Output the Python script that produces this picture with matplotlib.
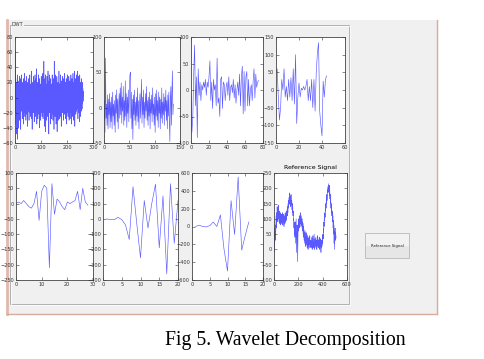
import matplotlib
matplotlib.use('Agg')
import matplotlib.pyplot as plt
from matplotlib.patches import Rectangle

# detail coefficients (levels 1..7) + reference signal
d1 = [10, 62, -20, 25, -35, 15, -48, 20, -10, 30, -55, 18, -25, 5, -40,
      22, -15, 28, -30, 12, -8, 25, -42, 15, -18, 30, -12, 8, -28, 20,
      -5, 18, -35, 25, -20, 10, -15, 32, -25, 5, -10, 22, -30, 15, -8,
      28, -22, 12, -38, 20, -5, 15, -18, 25, -30, 10, -12, 30, -20, 8,
      -25, 18, -10, 35, -28, 12, -42, 20, -5, 15, -20, 28, -15, 5, -32,
      22, -8, 30, -25, 10, -18, 25, -12, 38, -35, 15, -5, 20, -28, 12,
      -15, 30, -22, 8, -40, 25, -10, 18, -30, 12, -6, 28, -20, 15, -25,
      20, -12, 32, -28, 10, -18, 48, -20, 15, -38, 25, -8, 30, -45, 18,
      -22, 12, -30, 28, -15, 5, -25, 35, -18, 10, -48, 22, -12, 30, -20,
      15, -35, 25, -8, 18, -28, 12, -22, 30, -15, 8, -30, 20, -10, 25,
      -42, 48, -20, 15, -25, 30, -12, 8, -35, 22, -18, 28, -45, 12, -8,
      20, -30, 15, -22, 35, -10, 18, -28, 10, -15, 30, -25, 12, -38, 22,
      -5, 15, -20, 28, -12, 8, -30, 25, -18, 10, -22, 32, -15, 5, -28,
      20, -10, 25, -35, 15, -8, 30, -20, 12, -25, 18, -12, 28, -30, 10,
      -15, 22, -28, 15, -5, 30, -20, 12, -35, 25, -10, 18, -25, 32, -15,
      8, -30, 20, -12, 35, -38, 15, -8, 25, -22, 12, -18, 30, -15, 22,
      -10, 35, -28, 15, -20, 28, -12, 5, -32, 30, -15, 20, -25, 12, -5,
      25, -18, 10, -15, 20, -8, 12, -5, 8, 2]

d2 = [-20, 10, -35, 70, -15, 5, -25, 18, -30, 12, -10, 20, -28, 8, -20,
      15, -30, 22, -12, 5, -25, 10, -35, 18, -8, 25, -20, 12, -30, 5,
      20, -15, 28, -10, 35, -22, 15, -5, 30, -25, 10, -18, 38, -12, 20,
      -28, 15, -8, 25, -20, 10, 45, 50, -15, 22, -30, 12, -45, 18, -10,
      25, -18, 8, -25, 15, -12, 28, -20, 10, -30, 5, 20, -15, 12, 40,
      -22, 15, -10, 25, -28, 8, -15, 20, -5, 30, -18, 10, -25, 15, -12,
      22, -30, 12, -8, 18, -20, 28, -10, 5, -25, 15, -35, 20, -12, 25,
      -18, 10, -28, 22, -8, 15, -30, 12, -15, 28, -22, 8, -10, 20, -25,
      15, -5, 25, -18, 10, -30, 18, -12, 22, -20, -48, 15, 30, -25, 20,
      52, -10, 5]

d3 = [-10, -80, -50, 30, 85, -30, 25, -90, 40, -10, 15, -20, 10, 0, 15, 5, 20, -10, 15, 5,
      25, 55, -20, 15, -35, 20, 0, 10, -30, 60, -25, -15, -50, 20, 25, -35, 15, 10, -20, 5,
      15, -10, 25, -20, 5, 10, -5, 20, -15, 10, -25, 0, 15, -10, 30, -30, 25, 45, -45, 35,
      -40, 25, 35, -30, 20, -30, 0, 10, -20, 15, 40, -15, 30, 5, 15, 18]

d4 = [50, 60, -20, -85, -50, 30, 0, 60, -20, 10, -30, 30, -20, 35, -30,
      60, -40, 100, -95, -20, 20, -20, 5, 0, 10, 0, 10, 30, -30, 10,
      -30, 30, -50, 30, -60, 50, 105, 134, -60, -100, -130, 25, -20, 30, 40]

d5 = [0, 5, 0, 10, 0, -10, -15, 0, 40, -55, 40, 60, 50, -210, 65,
      -35, 15, 5, -10, -20, 5, 0, 5, 10, 40, -20, 50, 5, -5]

d6 = [0, -5, -5, 10, -5, -40, -135, 210, -30, -255, 120, -60, 100, 227, -190,
      150, -360, 230, -160, 120]

d7 = [0, 15, 0, -5, 10, 50, 0, 130, -250, -500, 290, -90, 555, -265, -100, 50]

ref = [60, 20, -10, 40, 70, 30, 80, 50, 90, 110, 70,
       120, 95, 140, 105, 125, 90, 130, 110, 145, 100, 115, 85, 125, 105, 95, 120, 80, 110, 100, 90,
       115, 85, 105, 95, 120, 80, 110, 100, 90, 115, 75, 105, 95, 110, 85, 120, 100, 90, 110, 95,
       125, 105, 115, 130, 110, 140, 120, 150, 135, 160,
       145, 170, 150, 185, 160, 175, 140, 165, 150, 180, 155, 145, 160, 130, 150, 120, 140, 110, 125, 95,
       100, 70, 90, 50, 80, 40, 60, 90, 20, 70, 100, 50, -10, 40, 80, 60, -40, 30, 70, 90,
       60, 100, 80, 110, 70, 105, 90, 120, 85, 100, 75, 110, 95, 80, 100, 70, 90, 60, 85, 50,
       75, 40, 65, 30, 55, 20, 45, 60, 10, 40, 25, 55, 15, 35, 50, 5, 30, 45, 20, 0,
       35, 10, 40, 25, 5, 30, 45, 15, 25, 10,
       30, 5, 25, 40, 10, 20, 0, 35, 15, 45, 5, 25, 10, 30, 50, 15, 0, 20, 35, 10,
       25, 40, 5, 15, 30, 0, 20, 45, 10, 25, 35, 5, 15, 30, 10, 40, 20, 0, 25, 10,
       35, 15, -10, 20, 5, 30, 10, 25, 45, 20,
       50, 35, 70, 55, 90, 75, 110, 95, 120, 105, 140, 125, 150, 135, 165, 150, 180, 160, 175, 195,
       185, 205, 190, 215, 200, 185, 210, 175, 195, 165,
       180, 150, 165, 135, 150, 120, 140, 110, 125, 100, 90, 110, 70, 95, 50, 80, 20, 60, 0, 40,
       70, 30, 55, 35, 45]

x1 = list(range(len(d1)))
x2 = list(range(len(d2)))
x3 = list(range(len(d3)))
x4 = list(range(len(d4)))
x5 = list(range(len(d5)))
x6 = list(range(1, len(d6) + 1))
x7 = list(range(1, len(d7) + 1))
x8 = list(range(0, 2 * len(ref), 2))

W, H = 484, 359
fig = plt.figure(figsize=(W / 100, H / 100), dpi=100)
fig.patch.set_facecolor('white')

def box(l, t, r, b):
    return [l / W, 1 - b / H, (r - l) / W, (b - t) / H]

# window / panel decoration in pixel coords
bg = fig.add_axes([0, 0, 1, 1])
bg.set_xlim(0, W)
bg.set_ylim(H, 0)
bg.axis('off')
bg.add_patch(Rectangle((7, 20), 430, 294, fc='#F0F0F0', ec='none'))
bg.plot([7, 7], [20, 314], color='#E0B8AC', lw=2)
bg.plot([437, 437], [20, 314], color='#D8AC9C', lw=1)
bg.plot([7, 437], [314, 314], color='#D8AC9C', lw=1)
bg.add_patch(Rectangle((10, 25), 339, 279, fill=False, ec='#A8A8A8', lw=0.6))
bg.add_patch(Rectangle((11, 26), 339, 279, fill=False, ec='white', lw=0.5))
bg.text(12, 25, 'DWT', fontsize=3.5, va='center', color='#333333',
        bbox=dict(fc='#F0F0F0', ec='none', pad=0.3))
# push button
bg.add_patch(Rectangle((365, 233), 44, 25, fc='#E6E6E6', ec='#B8B8B8', lw=0.6))
bg.add_patch(Rectangle((365.5, 233.5), 43, 12, fc='#F2F2F2', ec='none'))
bg.text(387, 246, 'Reference Signal', fontsize=2.8, ha='center', va='center', color='#222222')
bg.text(285, 340, 'Fig 5. Wavelet Decomposition', family='Liberation Serif',
        fontsize=14.2, ha='center', va='center', color='black')

panels = [
    (box(15, 37, 93, 143), x1, d1, (0, 300), [0, 100, 200, 300], (-60, 80), range(-60, 81, 20)),
    (box(104, 37, 180, 143), x2, d2, (0, 150), [0, 50, 100, 150], (-50, 100), range(-50, 101, 50)),
    (box(191, 37, 263, 143), x3, d3, (0, 80), range(0, 81, 20), (-100, 100), range(-100, 101, 50)),
    (box(276, 37, 345, 143), x4, d4, (0, 60), range(0, 61, 20), (-150, 150), range(-150, 151, 50)),
    (box(16, 173, 93, 280), x5, d5, (0, 30), range(0, 31, 10), (-250, 100), range(-250, 101, 50)),
    (box(103, 173, 178, 280), x6, d6, (0, 20), range(0, 21, 5), (-400, 300), range(-400, 301, 100)),
    (box(192, 173, 263, 280), x7, d7, (0, 20), range(0, 21, 5), (-600, 600), range(-600, 601, 200)),
    (box(274, 173, 347, 280), x8, ref, (0, 600), range(0, 601, 200), (-100, 250), range(-100, 251, 50)),
]

for pos, xs, ys, xl, xt, yl, yt in panels:
    ax = fig.add_axes(pos)
    ax.plot(xs, ys, color='blue', lw=0.45, alpha=0.65)
    ax.set_xlim(*xl)
    ax.set_ylim(*yl)
    ax.set_xticks(list(xt))
    ax.set_yticks(list(yt))
    ax.tick_params(direction='in', length=2, width=0.4, labelsize=3.6, pad=1.5,
                   top=True, right=True, colors='#333333')
    for s in ax.spines.values():
        s.set_linewidth(0.6)
        s.set_color('#444444')
    ax.set_facecolor('white')

ax.set_title('Reference Signal', fontsize=4.5, pad=3)

fig.savefig('out.png', dpi=100, facecolor='white')
